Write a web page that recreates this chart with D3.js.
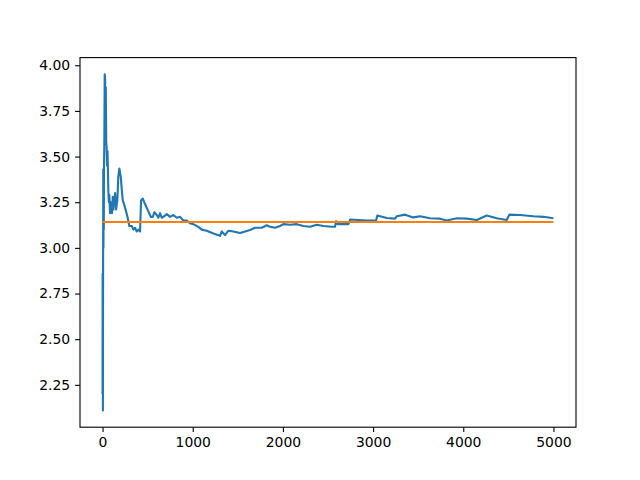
<!DOCTYPE html>
<html>
<head>
<meta charset="utf-8">
<script src="https://cdn.jsdelivr.net/npm/d3@7"></script>
<style>
  body { margin: 0; background: #fff; }
  svg { display: block; }
  .tick text { font-family: "DejaVu Sans", sans-serif; font-size: 13.9px; fill: #000; }
</style>
</head>
<body>
<div id="chart"></div>
<script>
// running estimate of pi (10 values per line in both arrays)
const iterations = [
  0, 1, 2, 3, 4, 5, 6, 8, 10, 12,
  14, 16, 20, 24, 28, 32, 36, 41, 45, 50,
  55, 60, 64, 70, 75, 83, 90, 94, 100, 105,
  113, 120, 128, 139, 150, 164, 175, 186, 202, 213,
  224, 238, 261, 276, 297, 324, 342, 360, 379, 397,
  416, 427, 446, 471, 508, 535, 557, 574, 601, 619,
  638, 656, 674, 712, 749, 785, 823, 859, 896, 934,
  970, 1007, 1062, 1100, 1155, 1229, 1303, 1322, 1358, 1395,
  1450, 1525, 1580, 1636, 1691, 1765, 1821, 1857, 1913, 1968,
  2005, 2079, 2153, 2227, 2301, 2375, 2449, 2542, 2578, 2589,
  2604, 2726, 2745, 2837, 2930, 3033, 3047, 3151, 3244, 3262,
  3354, 3446, 3521, 3632, 3743, 3817, 3928, 4039, 4149, 4260,
  4371, 4482, 4511, 4630, 4777, 4888, 4999];
const estimates = [
  2.20, 2.86, 2.57, 2.75, 2.11, 2.60, 2.85, 3.43, 3.00, 3.35,
  3.10, 3.43, 3.60, 3.95, 3.93, 3.70, 3.88, 3.58, 3.55, 3.45,
  3.53, 3.42, 3.315, 3.25, 3.29, 3.19, 3.25, 3.20, 3.24, 3.19,
  3.28, 3.21, 3.25, 3.30, 3.21, 3.26, 3.39, 3.435, 3.39, 3.32,
  3.26, 3.24, 3.20, 3.17, 3.12, 3.12, 3.10, 3.11, 3.09, 3.10,
  3.09, 3.26, 3.27, 3.24, 3.20, 3.17, 3.17, 3.195, 3.18, 3.165,
  3.19, 3.165, 3.17, 3.185, 3.17, 3.18, 3.165, 3.17, 3.15, 3.15,
  3.135, 3.13, 3.115, 3.10, 3.094, 3.079, 3.066, 3.09, 3.07, 3.094,
  3.09, 3.081, 3.09, 3.098, 3.11, 3.11, 3.124, 3.116, 3.11, 3.12,
  3.13, 3.127, 3.13, 3.12, 3.116, 3.127, 3.12, 3.116, 3.116, 3.146,
  3.13, 3.13, 3.155, 3.153, 3.15, 3.15, 3.177, 3.164, 3.16, 3.173,
  3.182, 3.167, 3.173, 3.162, 3.16, 3.15, 3.162, 3.16, 3.153, 3.177,
  3.162, 3.153, 3.182, 3.18, 3.173, 3.17, 3.162];
const piIterations = [0, 4999];
const piValues = [Math.PI, Math.PI];
const xTicks = [0, 1000, 2000, 3000, 4000, 5000];
const yTicks = [2.25, 2.50, 2.75, 3.00, 3.25, 3.50, 3.75, 4.00];

const width = 640, height = 480;
const marginTop = 57.6, marginRight = 64, marginBottom = 52.8, marginLeft = 80;

const svg = d3.select("#chart").append("svg")
  .attr("width", width)
  .attr("height", height);

// matplotlib style 5% padding around the data
const xExt = [0, 5000];
const yExt = d3.extent(estimates);
const xPad = (xExt[1] - xExt[0]) * 0.05;
const yPad = (yExt[1] - yExt[0]) * 0.05;

const x = d3.scaleLinear()
  .domain([xExt[0] - xPad, xExt[1] + xPad])
  .range([marginLeft, width - marginRight]);
const y = d3.scaleLinear()
  .domain([yExt[0] - yPad, yExt[1] + yPad])
  .range([height - marginBottom, marginTop]);

const line = d3.line()
  .x(d => x(d[0]))
  .y(d => y(d[1]));

svg.append("path")
  .datum(iterations.map((n, i) => [n, estimates[i]]))
  .attr("fill", "none")
  .attr("stroke", "#1f77b4")
  .attr("stroke-width", 2.1)
  .attr("stroke-linejoin", "round")
  .attr("d", line);

svg.append("path")
  .datum(piIterations.map((n, i) => [n, piValues[i]]))
  .attr("fill", "none")
  .attr("stroke", "#ff7f0e")
  .attr("stroke-width", 2.1)
  .attr("d", line);

// axes
svg.append("g")
  .attr("transform", `translate(0,${height - marginBottom})`)
  .call(d3.axisBottom(x).tickValues(xTicks).tickFormat(d3.format("d")).tickSize(4.9).tickPadding(4.9))
  .call(g => g.select(".domain").remove())
  .call(g => g.selectAll(".tick line").attr("stroke-width", 1.1));

svg.append("g")
  .attr("transform", `translate(${marginLeft},0)`)
  .call(d3.axisLeft(y).tickValues(yTicks).tickFormat(d3.format(".2f")).tickSize(4.9).tickPadding(4.9))
  .call(g => g.select(".domain").remove())
  .call(g => g.selectAll(".tick line").attr("stroke-width", 1.1));

// frame
svg.append("rect")
  .attr("x", marginLeft)
  .attr("y", marginTop)
  .attr("width", width - marginLeft - marginRight)
  .attr("height", height - marginTop - marginBottom)
  .attr("fill", "none")
  .attr("stroke", "#000")
  .attr("stroke-width", 1.1);
</script>
</body>
</html>
